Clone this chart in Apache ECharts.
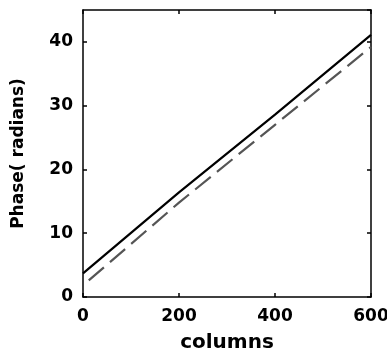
<!DOCTYPE html>
<html>
<head>
<meta charset="utf-8">
<script src="https://cdn.jsdelivr.net/npm/echarts@6/dist/echarts.min.js"></script>
<style>
  html, body { margin: 0; padding: 0; background: #fff; }
  #chart { width: 387px; height: 360px; }
</style>
</head>
<body>
<div id="chart"></div>
<script>
// values
var solidCols = [0, 200, 400, 600];
var solidPhase = [3.7, 16.4, 28.6, 41.1];
var dashCols = [12, 200, 400, 600];
var dashPhase = [2.6, 14.8, 27.0, 39.2];
var xTicks = [0, 200, 400, 600];
var yTicks = [0, 10, 20, 30, 40];

function pairs(xs, ys) {
  var out = [];
  for (var i = 0; i < xs.length; i++) out.push([xs[i], ys[i]]);
  return out;
}

var font = 'DejaVu Sans, sans-serif';
var tickText = { color: '#000', fontWeight: 'bold', fontSize: 17, fontFamily: font };
var lineStyle = { color: '#000', width: 1.5 };

var chart = echarts.init(document.getElementById('chart'));
chart.setOption({
  animation: false,
  grid: { left: 83, right: 16, top: 10, bottom: 63, outerBoundsMode: 'none', containLabel: false },
  xAxis: [{
    type: 'value', min: xTicks[0], max: xTicks[xTicks.length - 1], interval: 200,
    name: 'columns', nameLocation: 'middle', nameGap: 36,
    nameTextStyle: { color: '#000', fontWeight: 'bold', fontSize: 20, fontFamily: font },
    axisLine: { onZero: false, lineStyle: lineStyle },
    axisTick: { inside: true, length: 4, lineStyle: lineStyle },
    axisLabel: Object.assign({ margin: 11 }, tickText),
    splitLine: { show: false }
  }, {
    type: 'value', position: 'top', min: 0, max: 600, interval: 200,
    axisLine: { show: true, onZero: false, lineStyle: lineStyle },
    axisTick: { inside: true, length: 4, lineStyle: lineStyle },
    axisLabel: { show: false },
    splitLine: { show: false }
  }],
  yAxis: [{
    type: 'value', min: yTicks[0], max: 45, interval: 10,
    name: 'Phase( radians)', nameLocation: 'middle', nameGap: 56,
    nameTextStyle: { color: '#000', fontWeight: 'bold', fontSize: 17, fontFamily: font },
    axisLine: { show: true, onZero: false, lineStyle: lineStyle },
    axisTick: { inside: true, length: 4, lineStyle: lineStyle },
    axisLabel: Object.assign({ margin: 10, showMaxLabel: false }, tickText),
    splitLine: { show: false }
  }, {
    type: 'value', position: 'right', min: 0, max: 45, interval: 10,
    axisLine: { show: true, onZero: false, lineStyle: lineStyle },
    axisTick: { inside: true, length: 4, lineStyle: lineStyle },
    axisLabel: { show: false },
    splitLine: { show: false }
  }],
  series: [{
    type: 'line', showSymbol: false, symbol: 'none',
    data: pairs(dashCols, dashPhase),
    lineStyle: { color: '#555', width: 2.2, type: [20, 8] }
  }, {
    type: 'line', showSymbol: false, symbol: 'none',
    data: pairs(solidCols, solidPhase),
    lineStyle: { color: '#000', width: 2.2 }
  }]
});
</script>
</body>
</html>
